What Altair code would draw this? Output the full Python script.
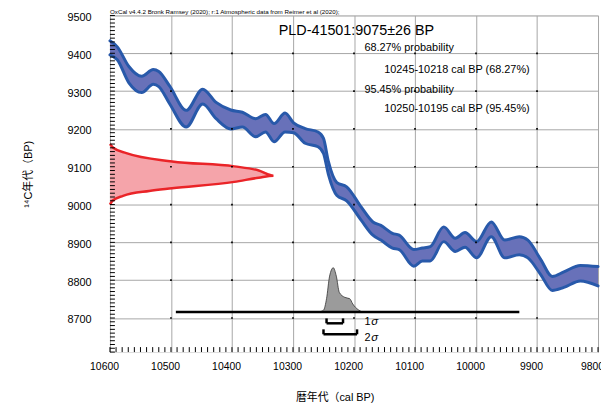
import altair as alt
import pandas as pd

# ---------------- data ----------------
x_ticks = [10600, 10500, 10400, 10300, 10200, 10100, 10000, 9900, 9800]
y_ticks = [9500, 9400, 9300, 9200, 9100, 9000, 8900, 8800, 8700]

# calibration curve (IntCal20 band): cal BP, upper edge, lower edge (14C BP)
cal_bp = [10600, 10588, 10569, 10548, 10529, 10520, 10502, 10475, 10448, 10426,
          10402, 10383, 10361, 10345, 10331, 10313, 10299, 10280, 10259, 10250,
          10242, 10228, 10212, 10188, 10169, 10156, 10137, 10126, 10102, 10088,
          10075, 10053, 10034, 10018, 9999, 9975, 9953, 9929, 9915, 9894,
          9875, 9856, 9829, 9800]
curve_top = [9433, 9417, 9365, 9339, 9357, 9352, 9313, 9249, 9305, 9270,
             9250, 9244, 9227, 9238, 9214, 9242, 9216, 9201, 9192, 9175,
             9114, 9058, 9047, 8993, 8954, 8945, 8924, 8919, 8881, 8885,
             8889, 8941, 8911, 8926, 8902, 8954, 8906, 8915, 8906, 8855,
             8810, 8822, 8839, 8836]
curve_bot = [9396, 9383, 9322, 9296, 9318, 9312, 9266, 9205, 9266, 9227,
             9200, 9205, 9179, 9192, 9166, 9192, 9190, 9162, 9153, 9135,
             9080, 9024, 9010, 8958, 8919, 8906, 8885, 8881, 8837, 8851,
             8851, 8902, 8876, 8887, 8859, 8915, 8859, 8867, 8859, 8815,
             8773, 8781, 8798, 8785]

# measured radiocarbon date distribution (relative density)
r_bp = [9160, 9150, 9136, 9114, 9101, 9090, 9076, 9071, 9060, 9043, 9036, 9023, 9010, 9000]
r_p = [0.0, 0.02, 0.10, 0.38, 0.76, 0.91, 1.0, 0.91, 0.76, 0.38, 0.24, 0.08, 0.015, 0.0]

# calibrated distribution (relative density)
post_cal = [10258, 10250, 10245, 10240, 10234, 10229, 10224, 10215, 10207, 10202, 10193, 10186]
post_p = [0.0, 0.04, 0.30, 0.81, 1.0, 0.81, 0.44, 0.33, 0.30, 0.18, 0.05, 0.0]

range_line = [10492, 9929]
sigma1 = [10245, 10218]
sigma2 = [10250, 10195]

# ---------------- layout / styles ----------------
W, H = 493, 340
TOP = 5.5
FONT = "Liberation Sans, Arial, Noto Sans CJK JP, sans-serif"
xs = alt.Scale(domain=[9800, 10600], reverse=True, nice=False, zero=False)
ys = alt.Scale(domain=[8610, 9500], nice=False, zero=False)
xax = alt.Axis(values=x_ticks, grid=True, gridColor="#a6a6a6", gridWidth=1, domain=False,
               ticks=False, labelPadding=10, labelFontSize=10.5, labelOffset=-6, labelColor="black",
               labelFont=FONT, format="d", title=None, labelFlush=False, labelOverlap=False)
yax = alt.Axis(values=y_ticks, grid=True, gridColor="#a6a6a6", gridWidth=1, domain=False,
               ticks=False, labelPadding=19, labelFontSize=11, labelOffset=2, labelColor="black",
               labelFont=FONT, format="d", title=None, labelFlush=False, labelOverlap=False)

def X(f, **k):
    return alt.X(f, scale=xs, axis=xax, **k)

def Y(f, **k):
    return alt.Y(f, scale=ys, axis=yax, **k)

band_df = pd.DataFrame({"cal": cal_bp, "top": curve_top, "bot": curve_bot})
red_df = pd.DataFrame({"bp": r_bp, "p": r_p})
post_df = pd.DataFrame({"cal": post_cal, "p": post_p})

BLUE_LINE = "#2859aa"
BLUE_FILL = "#6871b9"

band = alt.Chart(band_df).mark_area(interpolate="monotone", color=BLUE_FILL, opacity=1).encode(
    x=X("cal:Q"), y=Y("top:Q"), y2="bot:Q")
band_top = alt.Chart(band_df).mark_line(interpolate="monotone", color=BLUE_LINE, strokeWidth=3,
                                        strokeCap="round").encode(x=X("cal:Q"), y=Y("top:Q"))
band_bot = alt.Chart(band_df).mark_line(interpolate="monotone", color=BLUE_LINE, strokeWidth=3,
                                        strokeCap="round").encode(x=X("cal:Q"), y=Y("bot:Q"))

red_base = alt.Chart(red_df).transform_calculate(xv="10600 - datum.p * 268")
red_area = red_base.mark_area(orient="horizontal", interpolate="monotone", color="#f5a4aa",
                              opacity=1).encode(y=Y("bp:Q"), x=X("xv:Q"), x2=alt.X2(datum=10600))
red_line = red_base.mark_line(interpolate="monotone", color="#ea2428", strokeWidth=2.5).encode(
    y=Y("bp:Q"), x=X("xv:Q"), order="bp:Q")

post_base = alt.Chart(post_df).transform_calculate(yv="8716 + datum.p * 117")
post_area = post_base.mark_area(interpolate="monotone", color="#9b9b9b", stroke="#333333",
                                strokeWidth=0.8, opacity=1).encode(
    x=X("cal:Q"), y=Y("yv:Q"), y2=alt.Y2(datum=8716))

rng_df = pd.DataFrame({"a": [range_line[0]], "b": [range_line[1]]})
rng = alt.Chart(rng_df).mark_rule(color="black", strokeWidth=2.5).encode(
    x=X("a:Q"), x2="b:Q", y=alt.Y(datum=8716, scale=ys, axis=yax))

def bracket(lohi, ybot, ytop):
    d = pd.DataFrame({"a": [lohi[0]], "b": [lohi[1]]})
    h = alt.Chart(d).mark_rule(color="black", strokeWidth=2.5).encode(
        x=X("a:Q"), x2="b:Q", y=alt.Y(datum=ybot, scale=ys, axis=yax))
    v1 = alt.Chart(d).mark_rule(color="black", strokeWidth=2.5).encode(
        x=X("a:Q"), y=alt.Y(datum=ybot, scale=ys, axis=yax), y2=alt.Y2(datum=ytop))
    v2 = alt.Chart(d).mark_rule(color="black", strokeWidth=2.5).encode(
        x=X("b:Q"), y=alt.Y(datum=ybot, scale=ys, axis=yax), y2=alt.Y2(datum=ytop))
    return [h, v1, v2]

br = bracket(sigma1, 8686, 8699) + bracket(sigma2, 8657, 8670)

# minor ticks (inward)
ytk = alt.Chart(alt.sequence(8610, 9501, 10)).mark_rule(color="black", strokeWidth=1).encode(
    y=Y("data:Q"), x=alt.value(0), x2=alt.value(5))
xtk = alt.Chart(alt.sequence(9800, 10601, 10)).mark_rule(color="black", strokeWidth=1).encode(
    x=X("data:Q"), y=alt.value(H), y2=alt.value(H - 5))

# dots at grid intersections
dots_df = pd.DataFrame([(a, b) for a in x_ticks[1:-1] for b in y_ticks[1:]], columns=["cx", "cy"])
dots = alt.Chart(dots_df).mark_square(size=3, color="black", opacity=1).encode(
    x=X("cx:Q"), y=Y("cy:Q"))

one = pd.DataFrame({"k": [0]})

def label(txt, x, y, size, align="left", angle=0, style="normal", font=FONT, baseline="middle"):
    return alt.Chart(one).mark_text(text=txt, align=align, baseline=baseline, fontSize=size,
                                    angle=angle, fontStyle=style, font=font, color="black").encode(
        x=alt.value(x), y=alt.value(y))

d = TOP - 3.5  # shift of the plot area relative to the reference
texts = [
    label("OxCal v4.4.2 Bronk Ramsey (2020); r:1 Atmospheric data from Reimer et al (2020);",
          0, 0, 6.3, baseline="bottom"),
    label("PLD-41501:9075±26 BP", 170.5, 18 - d, 14.5),
    label("68.27% probability", 257, 35 - d, 11),
    label("10245-10218 cal BP (68.27%)", 277, 57 - d, 11),
    label("95.45% probability", 257, 77 - d, 11),
    label("10250-10195 cal BP (95.45%)", 277, 97 - d, 11),
    label("1", 257, 311.5 - d, 11),
    label("σ", 264, 311.5 - d, 11.5, style="italic"),
    label("2", 257, 327.5 - d, 11),
    label("σ", 264, 327.5 - d, 11.5, style="italic"),
    label("¹⁴C年代（BP)", -82, 162.5 - d, 11, align="center", angle=270,
          font="Liberation Sans, Noto Sans CJK JP, sans-serif"),
    label("暦年代（cal BP)", 227.5, 388.5 - d, 11, align="center",
          font="Liberation Sans, Noto Sans CJK JP, sans-serif"),
]

chart = alt.layer(
    band, band_top, band_bot, red_area, red_line, post_area, rng, *br, ytk, xtk, dots, *texts
).properties(
    width=W, height=H,
    autosize=alt.AutoSizeParams(type="none"),
    padding={"left": 103, "top": TOP, "right": 3, "bottom": 56},
).configure_view(stroke="black", strokeWidth=3).configure(background="white")

chart.save("out.html", embed_options={"renderer": "svg", "actions": False})
